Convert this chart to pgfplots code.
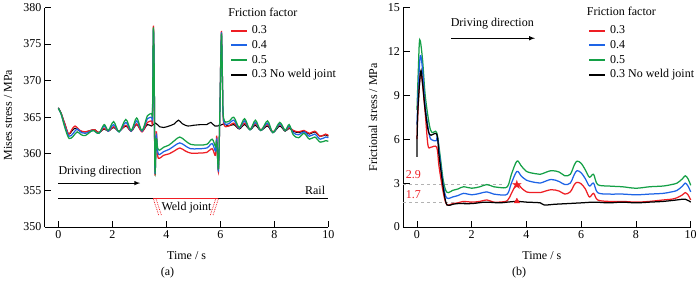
\documentclass[border=0pt]{standalone}
\usepackage{fontspec}
\setmainfont{Liberation Serif}
\newfontfamily\djv{DejaVu Sans}
\usepackage{pgfplots}
\pgfplotsset{compat=1.18}
\definecolor{cR}{RGB}{238,30,36}
\definecolor{cB}{RGB}{30,100,230}
\definecolor{cG}{RGB}{20,160,70}
\newcommand{\fs}{\fontsize{12pt}{14pt}\selectfont}
\pgfplotsset{
  mystyle/.style={
    scale only axis,
    height=219.5pt,
    axis lines=left,
    axis line style={-, line width=0.9pt},
    x axis line style={-},
    y axis line style={-},
    tick align=inside,
    major tick length=6.5pt,
    tick style={line width=0.9pt, black},
    xmin=-0.5, xmax=10,
    xtick={0,2,...,10},
    tick label style={font=\fs},
    label style={font=\fs},
    /pgf/number format/assume math mode=true,
    clip=false,
    legend image code/.code={\draw[#1] (0pt,0.2pt) -- (16pt,0.2pt);},
    legend style={anchor=north west, draw=none, fill=none, inner sep=0pt,
      row sep=2.7pt, column sep=4pt,
      nodes={inner sep=0pt, text height=9pt, text depth=3pt, font=\fs},
      legend cell align=left},
    xlabel={Time / s},
    crv/.style={line width=1.25pt, smooth, tension=0.55, forget plot},
  }
}
\begin{document}
\begin{tikzpicture}[font=\fs]
\useasboundingbox (0,0) rectangle (700pt,284pt);
% ---------------- (a) ----------------
\begin{axis}[mystyle,
  at={(44.8pt,57pt)}, anchor=south west, width=283.5pt,
  ymin=350, ymax=380, ytick={350,355,...,380},
  ylabel={Mises stress / MPa},
  ylabel style={at={(axis description cs:-0.13,0.51)}, anchor=center},
  xlabel style={at={(axis description cs:0.5,-0.132)}, anchor=center},
  legend style={at={(axis description cs:0.653,0.922)}},
]
\addlegendimage{cR, line width=1.8pt}\addlegendentry{0.3}
\addlegendimage{cB, line width=1.8pt}\addlegendentry{0.4}
\addlegendimage{cG, line width=1.8pt}\addlegendentry{0.5}
\addlegendimage{black, line width=1.8pt}\addlegendentry{0.3 No weld joint}
% black
\addplot[black, crv, line width=1.1pt] coordinates {
(0,366.3) (0.1,365.6) (0.25,364.0) (0.38,362.7) (0.5,363.1) (0.62,363.5) (0.8,363.1) (1.0,363.0) (1.2,363.2) (1.35,363.3) (1.5,362.9) (1.7,363.4) (1.85,363.1) (2.05,363.6) (2.25,363.1) (2.5,363.8) (2.7,363.1) (2.9,364.0) (3.1,363.1) (3.3,364.0) (3.45,363.8) (3.6,364.2) (3.75,363.7) (3.9,363.6) (4.1,363.8) (4.3,364.1) (4.45,364.6) (4.6,364.1) (4.8,363.8) (5.0,363.9) (5.3,364.0) (5.5,364.0) (5.65,364.3) (5.8,363.8) (6.0,363.9) (6.15,364.1) (6.3,363.8) (6.5,364.0) (6.7,363.4) (6.9,364.0) (7.1,363.3) (7.3,363.9) (7.5,363.2) (7.75,363.8) (7.95,362.9) (8.2,363.8) (8.4,363.1) (8.55,363.5) (8.7,363.1) (8.9,362.9) (9.1,363.1) (9.3,362.7) (9.5,363.0) (9.7,362.4) (9.9,362.6) (10,362.4)};
% red
\addplot[cR, crv] coordinates {
(0,366.2) (0.1,365.6) (0.25,364.0) (0.38,362.7) (0.5,363.3) (0.62,363.8) (0.8,363.2) (1.0,363.0) (1.2,363.2) (1.35,363.3) (1.5,362.9) (1.7,363.5) (1.85,363.1) (2.05,363.7) (2.25,363.1) (2.5,363.9) (2.7,363.1) (2.9,364.1) (3.1,363.0) (3.3,364.3) (3.45,364.5) (3.49,365.0) (3.52,377.3) (3.55,372) (3.58,357.2) (3.63,363.0) (3.68,359.8) (3.75,359.4) (3.9,359.8) (4.1,360.0) (4.3,360.4) (4.5,360.8) (4.7,360.4) (4.9,360.1) (5.2,360.1) (5.5,360.2) (5.7,360.7) (5.82,359.8) (5.87,362.4) (5.93,357.5) (5.98,365) (6.04,376.7) (6.08,370) (6.12,364.3) (6.3,363.8) (6.5,364.2) (6.7,363.5) (6.9,364.2) (7.1,363.4) (7.3,364.1) (7.5,363.3) (7.75,364.0) (7.95,363.0) (8.2,364.0) (8.4,363.2) (8.55,363.6) (8.7,363.2) (8.9,363.0) (9.1,363.2) (9.3,362.8) (9.5,363.1) (9.7,362.4) (9.9,362.7) (10,362.5)};
% blue
\addplot[cB, crv] coordinates {
(0,366.2) (0.1,365.5) (0.25,363.7) (0.4,362.4) (0.55,362.8) (0.7,363.4) (0.85,362.9) (1.0,362.8) (1.15,363.0) (1.3,363.2) (1.5,362.8) (1.7,363.8) (1.85,363.1) (2.05,364.0) (2.25,363.0) (2.5,364.3) (2.7,363.1) (2.9,364.5) (3.1,363.1) (3.3,364.8) (3.45,365.0) (3.49,365.5) (3.52,376.8) (3.55,372) (3.58,357.5) (3.63,362.5) (3.68,360.3) (3.75,359.9) (3.9,360.3) (4.1,360.6) (4.3,361.1) (4.5,361.5) (4.7,361.1) (4.9,360.7) (5.2,360.7) (5.5,360.8) (5.7,361.4) (5.82,360.4) (5.87,362) (5.93,357.7) (5.98,365) (6.04,376.5) (6.08,370) (6.12,364.6) (6.3,364.1) (6.5,364.6) (6.7,363.5) (6.9,364.5) (7.1,363.3) (7.3,364.3) (7.5,363.2) (7.75,364.2) (7.95,362.9) (8.2,364.1) (8.4,363.2) (8.55,363.8) (8.7,362.9) (8.9,362.6) (9.1,363.0) (9.3,362.4) (9.5,362.7) (9.7,362.0) (9.9,362.3) (10,362.2)};
% green
\addplot[cG, crv] coordinates {
(0,366.2) (0.1,365.5) (0.25,363.5) (0.4,362.1) (0.55,362.4) (0.7,363.0) (0.85,362.6) (1.0,362.5) (1.15,362.9) (1.3,363.2) (1.5,362.8) (1.7,364.0) (1.85,363.2) (2.05,364.4) (2.25,363.0) (2.5,364.7) (2.7,363.2) (2.9,364.9) (3.1,363.2) (3.3,365.2) (3.45,365.5) (3.49,366) (3.52,377.1) (3.55,372) (3.58,357.8) (3.63,362) (3.68,360.8) (3.75,360.5) (3.9,360.9) (4.1,361.2) (4.3,361.8) (4.5,362.3) (4.7,361.8) (4.9,361.3) (5.2,361.2) (5.5,361.3) (5.7,362.0) (5.82,361.0) (5.87,361.5) (5.93,358.0) (5.98,365) (6.04,376.3) (6.08,370) (6.12,364.9) (6.3,364.4) (6.5,365.0) (6.7,363.6) (6.9,364.8) (7.1,363.3) (7.3,364.6) (7.5,363.2) (7.75,364.5) (7.95,362.9) (8.2,364.3) (8.4,363.2) (8.55,364.0) (8.7,362.6) (8.9,362.2) (9.1,362.8) (9.3,362.0) (9.5,362.3) (9.7,361.6) (9.9,361.8) (10,361.7)};
% annotations
\node[anchor=west, inner sep=0pt] at (axis cs:6.29,379.4) {Friction factor};
\node[anchor=west, inner sep=0pt] at (axis cs:0,357.6) {Driving direction};
\draw[-latex, line width=1pt] (axis cs:0,356.0) -- (axis cs:3.03,356.0);
\draw[line width=1pt] (axis cs:0,353.85) -- (axis cs:10,353.85);
\draw[cR, line width=1pt] (axis cs:3.52,353.85) -- (axis cs:5.93,353.85);
\node[anchor=east, inner sep=0pt] at (axis cs:9.89,355.07) {Rail};
\draw[cR, densely dotted, line width=0.8pt] (axis cs:3.52,353.85) -- (axis cs:3.72,351.6);
\draw[cR, densely dotted, line width=0.8pt] (axis cs:3.62,353.85) -- (axis cs:3.82,351.6);
\draw[cR, densely dotted, line width=0.8pt] (axis cs:5.93,353.85) -- (axis cs:5.73,351.6);
\draw[cR, densely dotted, line width=0.8pt] (axis cs:5.83,353.85) -- (axis cs:5.63,351.6);
\node[inner sep=0pt] at (axis cs:4.75,352.6) {Weld joint};
\node at (axis description cs:0.433,-0.21) {(a)};
\end{axis}
% ---------------- (b) ----------------
\begin{axis}[mystyle,
  at={(403.3pt,57pt)}, anchor=south west, width=287.4pt,
  ymin=0, ymax=15, ytick={0,3,...,15},
  ylabel={Frictional stress / MPa},
  ylabel style={at={(axis description cs:-0.105,0.50)}, anchor=center},
  xlabel style={at={(axis description cs:0.482,-0.132)}, anchor=center},
  legend style={at={(axis description cs:0.643,0.922)}},
]
\addlegendimage{cR, line width=1.8pt}\addlegendentry{0.3}
\addlegendimage{cB, line width=1.8pt}\addlegendentry{0.4}
\addlegendimage{cG, line width=1.8pt}\addlegendentry{0.5}
\addlegendimage{black, line width=1.8pt}\addlegendentry{0.3 No weld joint}
\draw[gray!60, dashed, line width=0.8pt] (axis cs:-0.5,2.9) -- (axis cs:3.2,2.9);
\draw[gray!60, dashed, line width=0.8pt] (axis cs:-0.5,1.7) -- (axis cs:3.3,1.7);
% green
\addplot[cG, crv] coordinates {
(0,8.0) (0.05,10.8) (0.1,12.8) (0.2,11.5) (0.3,9.0) (0.45,7.0) (0.55,6.45) (0.72,6.45) (0.85,4.8) (0.95,3.3) (1.05,2.5) (1.15,2.35) (1.3,2.5) (1.5,2.6) (1.7,2.75) (2.0,2.65) (2.3,2.75) (2.55,2.9) (2.8,2.75) (3.0,2.7) (3.3,2.75) (3.45,3.6) (3.65,4.5) (3.8,4.2) (4.0,3.8) (4.3,3.65) (4.5,3.6) (4.9,3.85) (5.2,3.75) (5.4,3.5) (5.6,3.6) (5.75,4.25) (5.85,4.5) (6.0,4.35) (6.15,3.9) (6.3,3.4) (6.45,3.6) (6.6,2.9) (7.0,2.8) (7.5,2.75) (8.0,2.65) (8.5,2.75) (9.0,2.8) (9.3,2.9) (9.5,3.0) (9.7,3.3) (9.8,3.5) (9.9,3.3) (10,2.85)};
% blue
\addplot[cB, crv] coordinates {
(0,7.0) (0.05,9.5) (0.12,11.7) (0.2,10.8) (0.3,8.3) (0.45,6.3) (0.55,5.95) (0.7,5.9) (0.75,6.1) (0.85,4.5) (0.95,3.0) (1.05,2.1) (1.15,1.95) (1.3,2.05) (1.5,2.15) (1.7,2.3) (2.0,2.2) (2.3,2.3) (2.55,2.4) (2.8,2.25) (3.0,2.2) (3.3,2.25) (3.45,3.0) (3.65,3.8) (3.8,3.5) (4.0,3.2) (4.3,3.05) (4.5,3.0) (4.9,3.25) (5.2,3.1) (5.4,2.9) (5.6,3.0) (5.75,3.6) (5.85,3.85) (6.0,3.7) (6.15,3.3) (6.3,2.8) (6.45,3.0) (6.6,2.35) (7.0,2.25) (7.5,2.25) (8.0,2.2) (8.5,2.25) (9.0,2.3) (9.3,2.4) (9.5,2.5) (9.7,2.8) (9.8,3.0) (9.9,2.8) (10,2.4)};
% red
\addplot[cR, crv] coordinates {
(0,6.0) (0.05,8.5) (0.13,10.6) (0.2,9.8) (0.3,7.8) (0.4,5.6) (0.5,5.45) (0.72,5.45) (0.8,4.2) (0.9,3.0) (1.0,2.0) (1.1,1.5) (1.3,1.6) (1.5,1.65) (1.7,1.75) (2.0,1.7) (2.3,1.75) (2.55,1.85) (2.8,1.7) (3.0,1.7) (3.3,1.8) (3.45,2.3) (3.65,2.95) (3.8,2.7) (4.0,2.4) (4.3,2.35) (4.5,2.35) (4.9,2.55) (5.2,2.45) (5.4,2.25) (5.6,2.4) (5.75,2.9) (5.85,3.05) (6.0,2.95) (6.15,2.6) (6.3,2.05) (6.45,2.3) (6.6,1.85) (7.0,1.75) (7.5,1.75) (8.0,1.7) (8.5,1.75) (9.0,1.85) (9.3,1.9) (9.5,2.0) (9.7,2.2) (9.8,2.35) (9.9,2.2) (10,1.85)};
% black
\addplot[black, crv] coordinates {
(0,4.8) (0.02,7.5) (0.13,10.6) (0.2,9.9) (0.3,8.0) (0.45,6.35) (0.72,6.35) (0.8,5.0) (0.9,3.5) (1.0,2.2) (1.1,1.5) (1.3,1.55) (1.5,1.6) (2.0,1.6) (2.5,1.7) (3.0,1.65) (3.3,1.7) (3.65,1.75) (4.0,1.7) (4.5,1.65) (4.65,1.5) (5.0,1.55) (5.5,1.6) (6.0,1.65) (6.5,1.7) (7.0,1.65) (7.5,1.7) (8.0,1.65) (8.5,1.7) (9.0,1.75) (9.5,1.85) (9.8,1.9) (10,1.7)};
% markers
\addplot[forget plot, only marks, cR, mark=text, text mark={\fontsize{13pt}{13pt}\djv\textcolor{cR}{★}}] coordinates {(3.65,2.9)};
\addplot[forget plot, only marks, mark=triangle*, mark size=3.2pt, cR] coordinates {(3.65,1.75)};
% annotations
\node[anchor=west, inner sep=0pt] at (axis cs:6.2,14.77) {Friction factor};
\node[inner sep=0pt] at (axis cs:2.75,13.92) {Driving direction};
\draw[-latex, line width=1pt] (axis cs:1.26,12.9) -- (axis cs:4.31,12.9);
\node[cR, inner sep=0pt] at (axis cs:-0.13,3.55) {2.9};
\node[cR, inner sep=0pt] at (axis cs:-0.13,2.24) {1.7};
\node at (axis description cs:0.403,-0.21) {(b)};
\end{axis}
\end{tikzpicture}
\end{document}
